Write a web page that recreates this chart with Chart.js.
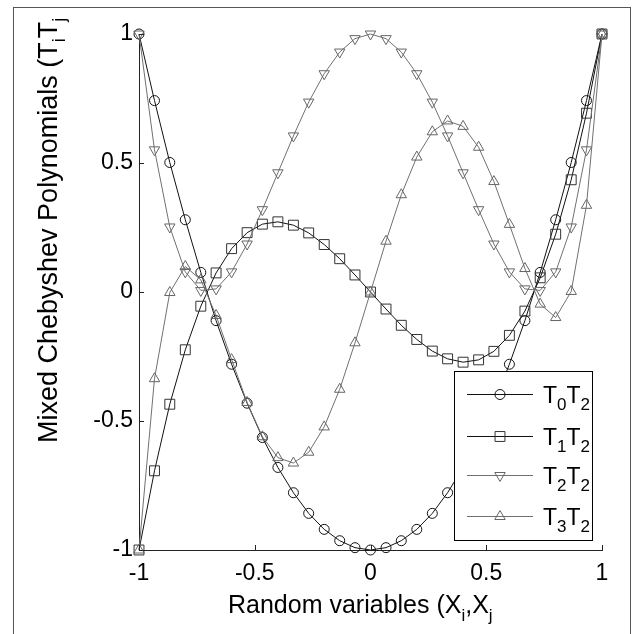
<!DOCTYPE html>
<html>
<head>
<meta charset="utf-8">
<script src="https://cdn.jsdelivr.net/npm/chart.js@4.4.1/dist/chart.umd.min.js"></script>
<style>
html,body{margin:0;padding:0;background:#fff;}
canvas{display:block;}
</style>
</head>
<body>
<canvas id="c" width="633" height="634"></canvas>
<script>
// ---- data ----
const xValues = [-1, -0.933, -0.867, -0.8, -0.733, -0.667, -0.6, -0.533, -0.467, -0.4, -0.333, -0.267, -0.2, -0.133, -0.067, 0,
                 0.067, 0.133, 0.2, 0.267, 0.333, 0.4, 0.467, 0.533, 0.6, 0.667, 0.733, 0.8, 0.867, 0.933, 1];
const t0t2 = [1, 0.742, 0.502, 0.28, 0.076, -0.111, -0.28, -0.431, -0.564, -0.68, -0.778, -0.858, -0.92, -0.964, -0.991, -1,
              -0.991, -0.964, -0.92, -0.858, -0.778, -0.68, -0.564, -0.431, -0.28, -0.111, 0.076, 0.28, 0.502, 0.742, 1];
const t1t2 = [-1, -0.693, -0.435, -0.224, -0.055, 0.074, 0.168, 0.23, 0.263, 0.272, 0.259, 0.229, 0.184, 0.129, 0.066, 0,
              -0.066, -0.129, -0.184, -0.229, -0.259, -0.272, -0.263, -0.23, -0.168, -0.074, 0.055, 0.224, 0.435, 0.693, 1];
const t2t2 = [1, 0.551, 0.252, 0.078, 0.006, 0.012, 0.078, 0.186, 0.319, 0.462, 0.605, 0.736, 0.846, 0.93, 0.982, 1,
              0.982, 0.93, 0.846, 0.736, 0.605, 0.462, 0.319, 0.186, 0.078, 0.012, 0.006, 0.078, 0.252, 0.551, 1];
const t3t2 = [-1, -0.336, -0.002, 0.099, 0.047, -0.091, -0.262, -0.428, -0.561, -0.642, -0.663, -0.621, -0.523, -0.377, -0.197, 0,
              0.197, 0.377, 0.523, 0.621, 0.663, 0.642, 0.561, 0.428, 0.262, 0.091, -0.047, -0.099, 0.002, 0.336, 1];
const seriesNames = ['T0T2', 'T1T2', 'T2T2', 'T3T2'];
const legendParts = [[['T',0],['0',1],['T',0],['2',1]], [['T',0],['1',1],['T',0],['2',1]],
                     [['T',0],['2',1],['T',0],['2',1]], [['T',0],['3',1],['T',0],['2',1]]];
const xTickValues = [-1, -0.5, 0, 0.5, 1];
const xTickLabels = ['-1', '-0.5', '0', '0.5', '1'];
const yTickValues = [-1, -0.5, 0, 0.5, 1];
const yTickLabels = ['-1', '-0.5', '0', '0.5', '1'];
const xTitleParts = [['Random variables (X',0],['i',1],[',X',0],['j',1]];
const yTitleParts = [['Mixed Chebyshev Polynomials (T',0],['i',1],['T',0],['j',1]];

const FONT = '"Liberation Sans", Arial, Helvetica, sans-serif';
const styles = [
  {line:'#111', point:'#111', style:'circle', r:5, rot:0},
  {line:'#111', point:'#333', style:'rect', r:7, rot:0},
  {line:'#707070', point:'#666', style:'triangle', r:6, rot:180},
  {line:'#707070', point:'#666', style:'triangle', r:6, rot:0}
];
const allSeries = [t0t2, t1t2, t2t2, t3t2];

const datasets = allSeries.map((s, i) => ({
  label: seriesNames[i],
  data: xValues.map((x, k) => ({x: x, y: s[k]})),
  showLine: true,
  borderColor: styles[i].line,
  borderWidth: 1,
  pointStyle: styles[i].style,
  pointRotation: styles[i].rot,
  pointRadius: styles[i].r,
  pointBorderColor: styles[i].point,
  pointBackgroundColor: 'rgba(0,0,0,0)',
  pointBorderWidth: 1,
  tension: 0,
  clip: false,
  order: 4 - i
}));

function drawRich(ctx, parts, x, y, size, subSize, subDy) {
  let cx = x;
  for (const [t, sub] of parts) {
    ctx.font = (sub ? subSize : size) + 'px ' + FONT;
    ctx.fillText(t, cx, y + (sub ? subDy : 0));
    cx += ctx.measureText(t).width;
  }
  return cx;
}

const decor = {
  id: 'decor',
  afterDatasetsDraw(chart) {
    const ctx = chart.ctx;
    const xs = chart.scales.x, ys = chart.scales.y;
    const L = xs.left, B = ys.bottom;
    ctx.save();
    // inward tick marks
    ctx.strokeStyle = '#222';
    ctx.lineWidth = 1;
    ctx.beginPath();
    yTickValues.forEach(v => {
      const py = Math.round(ys.getPixelForValue(v)) + 0.5;
      ctx.moveTo(L, py); ctx.lineTo(L + 5, py);
    });
    xTickValues.forEach(v => {
      const px = Math.round(xs.getPixelForValue(v)) + 0.5;
      ctx.moveTo(px, B); ctx.lineTo(px, B - 5);
    });
    ctx.stroke();

    // legend
    const lx = 454, ly = 371, lw = 138, lh = 169;
    ctx.fillStyle = '#fff';
    ctx.fillRect(lx, ly, lw, lh);
    ctx.strokeStyle = '#000';
    ctx.strokeRect(lx + 0.5, ly + 0.5, lw, lh);
    const rows = [394, 436, 475, 516];
    rows.forEach((ry, i) => {
      const st = styles[i];
      ctx.strokeStyle = st.line;
      ctx.lineWidth = 1;
      ctx.beginPath();
      ctx.moveTo(467, ry + 0.5); ctx.lineTo(533, ry + 0.5);
      ctx.stroke();
      ctx.strokeStyle = st.point;
      ctx.fillStyle = 'rgba(0,0,0,0)';
      Chart.helpers.drawPoint(ctx, {pointStyle: st.style, radius: st.r, rotation: st.rot, borderWidth: 1}, 500, ry + 0.5);
      ctx.fillStyle = '#000';
      ctx.textAlign = 'left';
      ctx.textBaseline = 'alphabetic';
      drawRich(ctx, legendParts[i], 543, ry + 9, 23, 17, 7);
    });

    // axis titles
    ctx.fillStyle = '#000';
    ctx.textAlign = 'left';
    ctx.textBaseline = 'alphabetic';
    drawRich(ctx, xTitleParts, 228, 613, 25, 17, 8);
    ctx.save();
    ctx.translate(57, 443);
    ctx.rotate(-Math.PI / 2);
    drawRich(ctx, yTitleParts, 0, 0, 27, 18, 8);
    ctx.restore();

    // outer frame
    ctx.strokeStyle = '#555';
    ctx.lineWidth = 1;
    ctx.strokeRect(13.5, 7.5, 617, 700);
    ctx.restore();
  }
};

new Chart(document.getElementById('c'), {
  type: 'scatter',
  data: { datasets },
  options: {
    responsive: false,
    animation: false,
    events: [],
    layout: { padding: { left: 0, top: 34, right: 31, bottom: 0 } },
    plugins: { legend: { display: false }, tooltip: { enabled: false } },
    scales: {
      x: {
        type: 'linear', min: -1, max: 1,
        afterFit: s => { s.height = 84; },
        afterBuildTicks: s => { s.ticks = xTickValues.map(v => ({value: v})); },
        grid: { display: true, drawOnChartArea: false, drawTicks: false },
        border: { display: true, color: '#222', width: 1 },
        ticks: {
          color: '#000', padding: 10, maxRotation: 0, autoSkip: false,
          font: { family: FONT, size: 23 },
          callback: v => xTickLabels[xTickValues.indexOf(v)]
        }
      },
      y: {
        type: 'linear', min: -1, max: 1,
        afterFit: s => { s.width = 139; },
        afterBuildTicks: s => { s.ticks = yTickValues.map(v => ({value: v})); },
        grid: { display: true, drawOnChartArea: false, drawTicks: false },
        border: { display: true, color: '#222', width: 1 },
        ticks: {
          color: '#000', padding: 6, autoSkip: false,
          font: { family: FONT, size: 23 },
          callback: v => yTickLabels[yTickValues.indexOf(v)]
        }
      }
    }
  },
  plugins: [decor]
});
</script>
</body>
</html>
